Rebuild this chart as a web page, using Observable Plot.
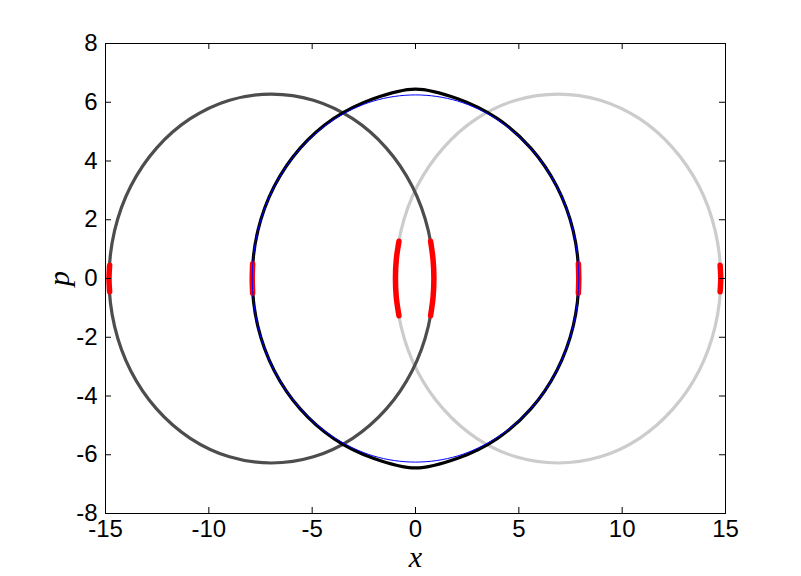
<!DOCTYPE html>
<html>
<head>
<meta charset="utf-8">
<script src="https://cdn.jsdelivr.net/npm/d3@7"></script>
<script src="https://cdn.jsdelivr.net/npm/@observablehq/plot@0.6"></script>
<style>
  html, body { margin: 0; padding: 0; background: #fff; }
</style>
</head>
<body>
<div id="chart"></div>
<script>
// Tick values
const xTicks = [-15, -10, -5, 0, 5, 10, 15];
const yTicks = [-8, -6, -4, -2, 0, 2, 4, 6, 8];

// Dark gray orbit (left)
const darkX = [0.89, 0.62, -0.16, -1.41, -3.04, -4.94, -6.97, -9.00, -10.90, -12.53, -13.78, -14.56, -14.83, -14.56, -13.78, -12.53, -10.90, -9.00, -6.97, -4.94, -3.04, -1.41, -0.16, 0.62];
const darkP = [0, 1.63, 3.14, 4.44, 5.44, 6.07, 6.28, 6.07, 5.44, 4.44, 3.14, 1.63, 0, -1.63, -3.14, -4.44, -5.44, -6.07, -6.28, -6.07, -5.44, -4.44, -3.14, -1.63];

// Light gray orbit (right)
const lightX = [14.77, 14.50, 13.72, 12.46, 10.84, 8.94, 6.90, 4.86, 2.96, 1.34, 0.08, -0.70, -0.97, -0.70, 0.08, 1.34, 2.96, 4.86, 6.90, 8.94, 10.84, 12.46, 13.72, 14.50];
const lightP = [0, 1.63, 3.14, 4.44, 5.44, 6.07, 6.28, 6.07, 5.44, 4.44, 3.14, 1.63, 0, -1.63, -3.14, -4.44, -5.44, -6.07, -6.28, -6.07, -5.44, -4.44, -3.14, -1.63];

// Black orbit (center, slightly pointed at top and bottom)
const blackX = [7.90, 7.63, 6.84, 5.59, 3.95, 2.04, 0, -2.04, -3.95, -5.59, -6.84, -7.63, -7.90, -7.63, -6.84, -5.59, -3.95, -2.04, 0, 2.04, 3.95, 5.59, 6.84, 7.63];
const blackP = [0, 1.62, 3.13, 4.43, 5.45, 6.12, 6.45, 6.12, 5.45, 4.43, 3.13, 1.62, 0, -1.62, -3.13, -4.43, -5.45, -6.12, -6.45, -6.12, -5.45, -4.43, -3.13, -1.62];

// Blue thin ellipse (center)
const blueX = [7.90, 7.63, 6.84, 5.59, 3.95, 2.04, 0, -2.04, -3.95, -5.59, -6.84, -7.63, -7.90, -7.63, -6.84, -5.59, -3.95, -2.04, 0, 2.04, 3.95, 5.59, 6.84, 7.63];
const blueP = [0, 1.62, 3.13, 4.42, 5.41, 6.04, 6.25, 6.04, 5.41, 4.42, 3.13, 1.62, 0, -1.62, -3.13, -4.42, -5.41, -6.04, -6.25, -6.04, -5.41, -4.42, -3.13, -1.62];

// Red highlighted segments
const redOuterLX = [-14.80, -14.83, -14.80];
const redOuterLP = [0.45, 0, -0.45];
const redBlackLX = [-7.88, -7.90, -7.88];
const redBlackLP = [0.50, 0, -0.50];
const redInnerLX = [-0.80, -0.93, -0.97, -0.93, -0.80];
const redInnerLP = [1.27, 0.64, 0, -0.64, -1.27];
const redInnerRX = [0.73, 0.85, 0.89, 0.85, 0.73];
const redInnerRP = [1.27, 0.64, 0, -0.64, -1.27];
const redBlackRX = [7.88, 7.90, 7.88];
const redBlackRP = [0.50, 0, -0.50];
const redOuterRX = [14.74, 14.77, 14.74];
const redOuterRP = [0.45, 0, -0.45];

const toPts = (xs, ps, z) => xs.map((x, i) => ({x, p: ps[i], z}));
const dark = toPts(darkX, darkP, "dark");
const light = toPts(lightX, lightP, "light");
const black = toPts(blackX, blackP, "black");
const blue = toPts(blueX, blueP, "blue");
const red = [
  ...toPts(redOuterLX, redOuterLP, "r1"),
  ...toPts(redBlackLX, redBlackLP, "r2"),
  ...toPts(redInnerLX, redInnerLP, "r3"),
  ...toPts(redInnerRX, redInnerRP, "r4"),
  ...toPts(redBlackRX, redBlackRP, "r5"),
  ...toPts(redOuterRX, redOuterRP, "r6")
];

const W = 801, H = 576, ML = 105, MR = 76, MT = 43, MB = 63;
const FW = W - ML - MR, FH = H - MT - MB, TL = 6;

const chart = Plot.plot({
  width: W,
  height: H,
  marginLeft: ML,
  marginRight: MR,
  marginTop: MT,
  marginBottom: MB,
  x: {domain: [-15, 15]},
  y: {domain: [-8, 8]},
  style: {fontFamily: "'Liberation Sans', Arial, sans-serif", fontSize: "24px", background: "#fff", color: "#000"},
  marks: [
    Plot.line(light, {x: "x", y: "p", curve: "catmull-rom-closed", stroke: "#cccccc", strokeWidth: 3.2}),
    Plot.line(dark, {x: "x", y: "p", curve: "catmull-rom-closed", stroke: "#4d4d4d", strokeWidth: 3.2}),
    Plot.line(black, {x: "x", y: "p", curve: "catmull-rom-closed", stroke: "#000", strokeWidth: 3.2}),
    Plot.line(red, {x: "x", y: "p", z: "z", curve: "catmull-rom", stroke: "#ff0000", strokeWidth: 5.5, strokeLinecap: "round"}),
    Plot.line(blue, {x: "x", y: "p", curve: "catmull-rom-closed", stroke: "#0000ff", strokeWidth: 1}),
    Plot.frame({stroke: "#000", strokeWidth: 1}),
    Plot.tickX(xTicks, {x: d => d, insetTop: FH - TL, stroke: "#000"}),
    Plot.tickX(xTicks, {x: d => d, insetBottom: FH - TL, stroke: "#000"}),
    Plot.tickY(yTicks, {y: d => d, insetRight: FW - TL, stroke: "#000"}),
    Plot.tickY(yTicks, {y: d => d, insetLeft: FW - TL, stroke: "#000"}),
    Plot.axisX(xTicks, {tickSize: 0, tickPadding: 6, label: null, tickFormat: d => String(d)}),
    Plot.axisY(yTicks, {tickSize: 0, tickPadding: 8, label: null, tickFormat: d => String(d)}),
    Plot.text(["x"], {frameAnchor: "bottom", text: d => d, dy: 44, textAnchor: "middle", lineAnchor: "middle",
      fontFamily: "'Liberation Serif', 'DejaVu Serif', serif", fontStyle: "italic", fontSize: 30}),
    Plot.text(["p"], {frameAnchor: "left", text: d => d, dx: -46, rotate: -90, textAnchor: "middle", lineAnchor: "middle",
      fontFamily: "'Liberation Serif', 'DejaVu Serif', serif", fontStyle: "italic", fontSize: 30})
  ]
});
document.getElementById("chart").appendChild(chart);
</script>
</body>
</html>
